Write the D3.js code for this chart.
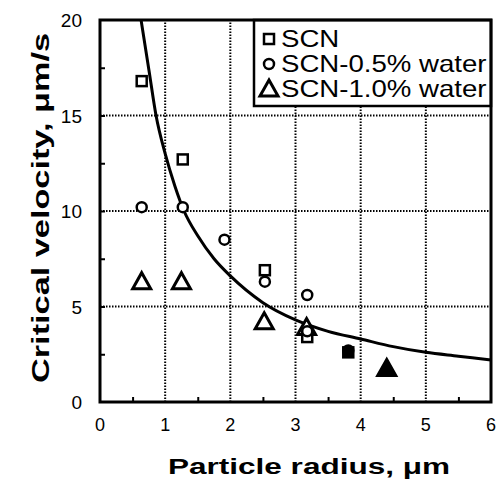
<!DOCTYPE html>
<html>
<head>
<meta charset="utf-8">
<script src="https://cdn.jsdelivr.net/npm/d3@7"></script>
<style>
  body { margin: 0; background: #fff; }
  text { font-family: "Liberation Sans", Arial, sans-serif; fill: #000; }
</style>
</head>
<body>
<div id="chart"></div>
<script>
// data
const scnData = [[0.64, 16.8], [1.27, 12.7], [2.53, 6.9], [3.18, 3.4], [3.81, 2.6]];
const water05Data = [[0.64, 10.2], [1.27, 10.2], [1.91, 8.5], [2.53, 6.3], [3.18, 5.6], [3.18, 3.7], [3.81, 2.7]];
const water10Data = [[0.64, 6.3], [1.25, 6.3], [2.52, 4.2], [3.17, 3.9], [4.4, 1.75]];
// fitted curve, points
const fitCurve = [[0.63, 20], [0.75, 17.4], [0.86, 15], [1.0, 13], [1.15, 11.3], [1.29, 10], [1.5, 8.7], [1.75, 7.5], [2.0, 6.6],
  [2.5, 5.2], [3.0, 4.3], [3.5, 3.7], [4.0, 3.3], [4.5, 2.9], [5.0, 2.6], [5.5, 2.4], [6.0, 2.2]];
const xTicks = [0, 1, 2, 3, 4, 5, 6];
const yTicks = [0, 5, 10, 15, 20];
const legendLabels = ["SCN", "SCN-0.5% water", "SCN-1.0% water"];

const width = 499, height = 485;
const margin = {top: 20, right: 8, bottom: 83, left: 100};

const svg = d3.select("#chart").append("svg")
    .attr("width", width)
    .attr("height", height);

const x = d3.scaleLinear().domain([0, 6]).range([margin.left, width - margin.right]);
const y = d3.scaleLinear().domain([0, 20]).range([height - margin.bottom, margin.top]);

// the original lettering is much wider than Liberation Sans, stretch it
function stretch(sel, k) {
  sel.each(function() {
    const len = this.getComputedTextLength();
    d3.select(this).attr("textLength", len * k).attr("lengthAdjust", "spacingAndGlyphs");
  });
}

// dotted grid
svg.append("g")
    .selectAll("line")
    .data(xTicks.slice(1, -1))
    .join("line")
    .attr("x1", d => x(d)).attr("x2", d => x(d))
    .attr("y1", y(0)).attr("y2", y(20))
    .attr("stroke", "#000").attr("stroke-width", 2).attr("stroke-dasharray", "1.5,1.5");
svg.append("g")
    .selectAll("line")
    .data(yTicks.slice(1, -1))
    .join("line")
    .attr("x1", x(0)).attr("x2", x(6))
    .attr("y1", d => y(d)).attr("y2", d => y(d))
    .attr("stroke", "#000").attr("stroke-width", 2).attr("stroke-dasharray", "1.5,1.5");

// inward ticks
const xAxis = d3.axisTop(x).tickValues(d3.range(0.5, 6, 1)).tickSize(5).tickFormat("");
svg.append("g").attr("transform", `translate(0,${y(0)})`).call(xAxis)
    .call(g => g.select(".domain").remove())
    .selectAll("line").attr("stroke-width", 2);
const yAxis = d3.axisRight(y).tickValues(d3.range(2.5, 20, 2.5)).tickSize(5).tickFormat("");
svg.append("g").attr("transform", `translate(${x(0)},0)`).call(yAxis)
    .call(g => g.select(".domain").remove())
    .selectAll("line").attr("stroke-width", 2);

// tick labels
svg.append("g").selectAll("text")
    .data(xTicks)
    .join("text")
    .attr("x", d => x(d))
    .attr("y", 431)
    .attr("text-anchor", "middle")
    .attr("font-size", 18)
    .text(d => d);
svg.append("g").selectAll("text")
    .data(yTicks)
    .join("text")
    .attr("x", 82)
    .attr("y", d => y(d) + 7)
    .attr("text-anchor", "end")
    .attr("font-size", 19)
    .text(d => d);

// fit line
const line = d3.line().x(d => x(d[0])).y(d => y(d[1])).curve(d3.curveMonotoneX);
svg.append("path")
    .datum(fitCurve)
    .attr("d", line)
    .attr("fill", "none")
    .attr("stroke", "#000")
    .attr("stroke-width", 3);

// markers
const markerG = svg.append("g");
function drawSquare(g, cx, cy, fill) {
  g.append("rect").attr("x", cx - 5).attr("y", cy - 5).attr("width", 10).attr("height", 10)
    .attr("fill", fill).attr("stroke", "#000").attr("stroke-width", 2.5);
}
function drawCircle(g, cx, cy, fill) {
  g.append("circle").attr("cx", cx).attr("cy", cy).attr("r", 5)
    .attr("fill", fill).attr("stroke", "#000").attr("stroke-width", 2.5);
}
function drawTriangle(g, cx, cy, fill) {
  g.append("path")
    .attr("d", `M${cx},${cy - 9}L${cx + 9},${cy + 7}L${cx - 9},${cy + 7}Z`)
    .attr("fill", fill).attr("stroke", "#000").attr("stroke-width", 3).attr("stroke-linejoin", "miter");
}
// overlapping points near the bottom right blur into solid marks in the original
water10Data.forEach(d => drawTriangle(markerG, x(d[0]), y(d[1]), d[0] > 4 ? "#000" : "#fff"));
scnData.forEach(d => drawSquare(markerG, x(d[0]), y(d[1]), d[0] > 3.5 ? "#000" : "#fff"));
water05Data.forEach(d => drawCircle(markerG, x(d[0]), y(d[1]), d[0] > 3.5 ? "#000" : "#fff"));

// legend
const lg = svg.append("g");
lg.append("rect")
    .attr("x", 254).attr("y", margin.top)
    .attr("width", x(6) - 254).attr("height", 86)
    .attr("fill", "#fff").attr("stroke", "#000").attr("stroke-width", 2.5);
const rowY = [39, 64, 89];
drawSquare(lg, 269, rowY[0], "#fff");
drawCircle(lg, 269, rowY[1], "#fff");
drawTriangle(lg, 269, rowY[2], "#fff");
lg.selectAll("text.lbl")
    .data(legendLabels)
    .join("text")
    .attr("class", "lbl")
    .attr("x", 281)
    .attr("y", (d, i) => rowY[i] + 8)
    .attr("font-size", 24)
    .text(d => d)
    .call(stretch, 1.15);

// frame
svg.append("rect")
    .attr("x", x(0)).attr("y", y(20))
    .attr("width", x(6) - x(0)).attr("height", y(0) - y(20))
    .attr("fill", "none").attr("stroke", "#000").attr("stroke-width", 3);

// axis titles
svg.append("text")
    .attr("x", 309)
    .attr("y", 474)
    .attr("text-anchor", "middle")
    .attr("font-size", 22)
    .attr("font-weight", "bold")
    .text("Particle radius, \u03bcm")
    .attr("textLength", 282)
    .attr("lengthAdjust", "spacingAndGlyphs");
svg.append("text")
    .attr("transform", "translate(49,208) rotate(-90)")
    .attr("text-anchor", "middle")
    .attr("font-size", 23)
    .attr("font-weight", "bold")
    .text("Critical velocity, \u03bcm/s")
    .attr("textLength", 350)
    .attr("lengthAdjust", "spacingAndGlyphs");
</script>
</body>
</html>
